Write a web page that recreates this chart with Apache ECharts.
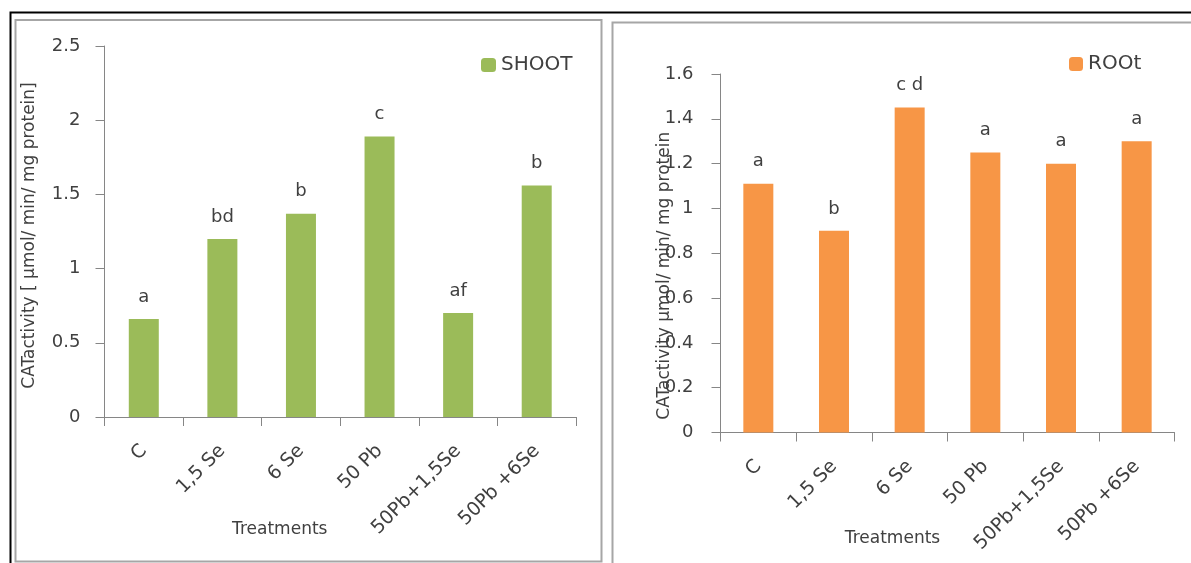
<!DOCTYPE html>
<html>
<head>
<meta charset="utf-8">
<script src="https://cdn.jsdelivr.net/npm/echarts@6/dist/echarts.min.js"></script>
<style>
html,body{margin:0;padding:0;background:#fff;}
#c{width:1191px;height:563px;}
</style>
</head>
<body>
<div id="c"></div>
<script>
const categories = ['C', '1,5 Se', '6 Se', '50 Pb', '50Pb+1,5Se', '50Pb +6Se'];
const shootValues = [0.66, 1.20, 1.37, 1.89, 0.70, 1.56];
const shootLetters = ['a', 'bd', 'b', 'c', 'af', 'b'];
const rootValues = [1.11, 0.90, 1.45, 1.25, 1.20, 1.30];
const rootLetters = ['a', 'b', 'c d', 'a', 'a', 'a'];
const shootTicks = [0, 0.5, 1, 1.5, 2, 2.5];
const rootTicks = [0, 0.2, 0.4, 0.6, 0.8, 1, 1.2, 1.4, 1.6];

const FONT = 'DejaVu Sans';
const TXT = '#404040';
const AX = '#868686';

const chart = echarts.init(document.getElementById('c'), null, {renderer: 'canvas'});

function xAxisCfg(gridIndex, gap, pad) {
  return {
    type: 'category', gridIndex: gridIndex, data: categories,
    axisLine: {lineStyle: {color: AX, width: 1}},
    axisTick: {show: true, length: 9, lineStyle: {color: AX}},
    axisLabel: {rotate: 45, color: TXT, fontFamily: FONT, fontSize: 19, margin: 31},
    name: 'Treatments', nameLocation: 'middle', nameGap: gap, nameMoveOverlap: false,
    nameTextStyle: {color: TXT, fontFamily: FONT, fontSize: 17, padding: pad}
  };
}
function yAxisCfg(gridIndex, ticks, name, gap, pad, margin) {
  return {
    type: 'value', gridIndex: gridIndex, min: ticks[0], max: ticks[ticks.length - 1],
    interval: ticks[1] - ticks[0],
    splitLine: {show: false},
    axisLine: {show: true, lineStyle: {color: AX}},
    axisTick: {show: true, length: 9, lineStyle: {color: AX}},
    axisLabel: {color: TXT, fontFamily: FONT, fontSize: 18, margin: margin},
    name: name, nameLocation: 'middle', nameGap: gap, nameRotate: 90, nameMoveOverlap: false,
    nameTextStyle: {color: TXT, fontFamily: FONT, fontSize: 17, padding: pad}
  };
}

chart.setOption({
  backgroundColor: '#fff',
  animation: false,
  graphic: [
    {type: 'polyline', shape: {points: [[10.5, 563], [10.5, 12.5], [1191, 12.5]]}, style: {stroke: '#000', lineWidth: 2, fill: null}, z: 100},
    {type: 'rect', shape: {x: 15.5, y: 20, width: 586, height: 541.5}, style: {stroke: '#a6a6a6', lineWidth: 2, fill: null}, z: 100},
    {type: 'rect', shape: {x: 612.5, y: 22.5, width: 590, height: 560}, style: {stroke: '#a6a6a6', lineWidth: 2, fill: null}, z: 100}
  ],
  legend: [
    {data: ['SHOOT'], left: 481, top: 55, padding: 0, itemWidth: 15, itemHeight: 14, itemGap: 5,
     textStyle: {color: TXT, fontFamily: FONT, fontSize: 20}},
    {data: ['ROOt'], left: 1069, top: 54, padding: 0, itemWidth: 14, itemHeight: 14, itemGap: 5,
     textStyle: {color: TXT, fontFamily: FONT, fontSize: 20}}
  ],
  grid: [
    {left: 104.5, top: 46, width: 471.5, bottom: 146},
    {left: 720.5, top: 74, width: 454, bottom: 130.5}
  ],
  xAxis: [xAxisCfg(0, 104, [0, 121, 0, 0]), xAxisCfg(1, 98, [0, 110, 0, 0])],
  yAxis: [
    yAxisCfg(0, shootTicks, 'CATactivity [ µmol/ min/ mg protein]', 66, [0, 8, 0, 0], 24),
    yAxisCfg(1, rootTicks, 'CATactivity µmol/ min/ mg protein', 47, [0, 45, 0, 0], 27)
  ],
  series: [
    {name: 'SHOOT', type: 'bar', xAxisIndex: 0, yAxisIndex: 0, data: shootValues, barWidth: 30,
     itemStyle: {color: '#9BBB59'},
     label: {show: true, position: 'top', distance: 13, color: TXT, fontFamily: FONT, fontSize: 18,
       formatter: p => shootLetters[p.dataIndex]}},
    {name: 'ROOt', type: 'bar', xAxisIndex: 1, yAxisIndex: 1, data: rootValues, barWidth: 30,
     itemStyle: {color: '#F79646'},
     label: {show: true, position: 'top', distance: 13, color: TXT, fontFamily: FONT, fontSize: 18,
       formatter: p => rootLetters[p.dataIndex]}}
  ]
});
</script>
</body>
</html>
